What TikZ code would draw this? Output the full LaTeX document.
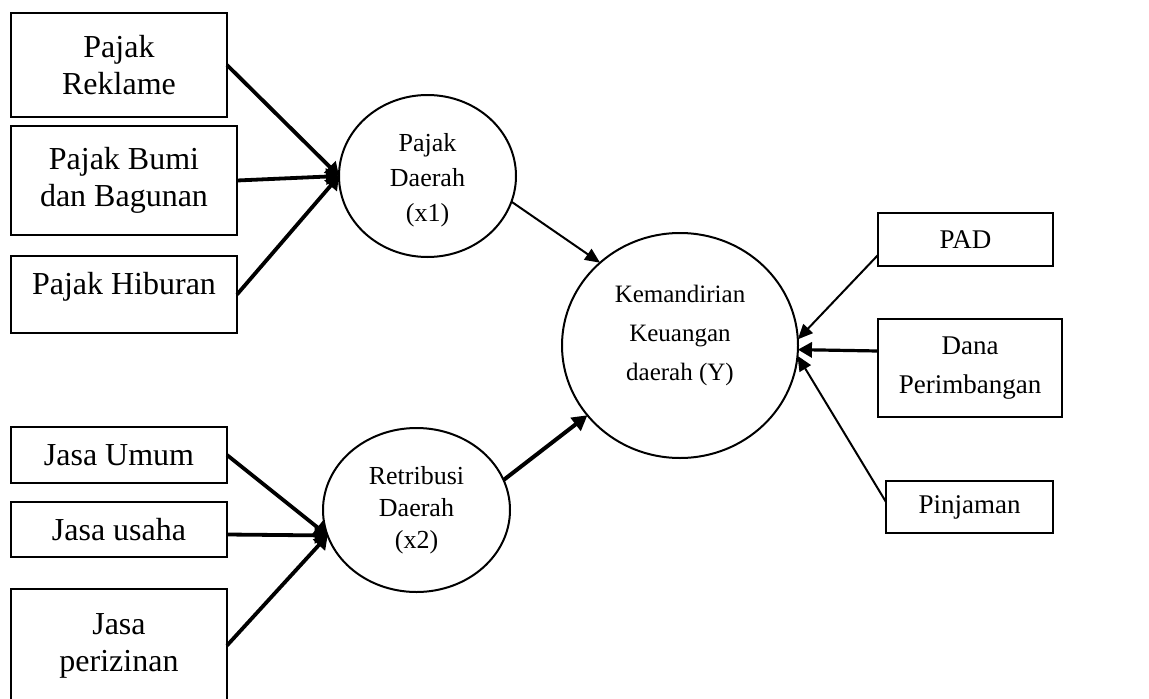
\documentclass[tikz,border=0pt]{standalone}
\usepackage{fontspec}
\setmainfont{Liberation Serif}
\usetikzlibrary{shapes.geometric,arrows.meta}
\begin{document}
\begin{tikzpicture}[x=1pt,y=-1pt,
  box/.style={draw, line width=2pt, rectangle, inner sep=0pt, outer sep=0pt, align=center, font=\fontsize{32}{37}\selectfont},
  rbox/.style={box, font=\fontsize{27}{39}\selectfont},
  oval/.style={draw, ellipse, line width=2pt, inner sep=0pt, outer sep=0pt, align=center},
  inarrow/.style={line width=3.8pt, -{Triangle[length=13pt,width=16pt]}},
  thinarrow/.style={line width=2pt, -{Triangle[length=15pt,width=13pt]}},
  midarrow/.style={line width=3.2pt, -{Triangle[length=14pt,width=15pt]}},
  boldarrow/.style={line width=4pt, -{Triangle[length=15pt,width=16pt]}}
]
\useasboundingbox (0,0) rectangle (1149,699);

% left input boxes
\node[box, minimum width=216pt, minimum height=104pt] (rek) at (119,65) {Pajak\\Reklame};
\node[box, minimum width=226pt, minimum height=109pt] (bumi) at (124,180.5) {Pajak Bumi\\dan Bagunan};
\node[box, minimum width=226pt, minimum height=77pt, text depth=23pt] (hib) at (124,294.5) {Pajak Hiburan};
\node[box, minimum width=216pt, minimum height=56pt] (umum) at (119,455) {Jasa Umum};
\node[box, minimum width=216pt, minimum height=55pt] (usaha) at (119,529.5) {Jasa usaha};
\node[box, minimum width=216pt, minimum height=113pt] (izin) at (119,645.5) {Jasa\\perizinan};

% right boxes
\node[rbox, minimum width=175pt, minimum height=53pt] (pad) at (965.5,239.5) {PAD};
\node[rbox, minimum width=184pt, minimum height=98pt] (dana) at (970,368) {Dana\\Perimbangan};
\node[rbox, minimum width=167pt, minimum height=52pt] (pinj) at (969.5,507) {Pinjaman};

% ellipses
\node[oval, minimum width=177pt, minimum height=162pt, font=\fontsize{26}{35}\selectfont, text height=96pt] (pd) at (427.5,176) {Pajak\\Daerah\\(x1)};
\node[oval, minimum width=187pt, minimum height=164pt, font=\fontsize{26}{32}\selectfont] (ret) at (416.5,510) {Retribusi\\Daerah\\(x2)};
\node[oval, minimum width=236pt, minimum height=225pt, font=\fontsize{25}{39}\selectfont, text depth=25pt] (kem) at (680,345.5) {Kemandirian\\Keuangan\\daerah (Y)};

% connectors into Pajak Daerah
\draw[inarrow] (rek.east) -- (pd.west);
\draw[inarrow] (bumi.east) -- (pd.west);
\draw[inarrow] (hib.east) -- (pd.west);

% connectors into Retribusi Daerah
\draw[inarrow] (umum.east) -- (ret.196);
\draw[inarrow] ([yshift=-5pt]usaha.east) -- (ret.196);
\draw[inarrow] (izin.east) -- (ret.196);

% into Kemandirian
\draw[thinarrow] (pd.-17.7) -- (kem.134);
\draw[boldarrow] (ret.19) -- (kem.217.4);
\draw[thinarrow] ([yshift=-15.5pt]pad.west) -- (kem.3);
\draw[midarrow] ([yshift=17pt]dana.west) -- (kem.-2);
\draw[thinarrow] ([yshift=5pt]pinj.west) -- (kem.-5);
\end{tikzpicture}
\end{document}
